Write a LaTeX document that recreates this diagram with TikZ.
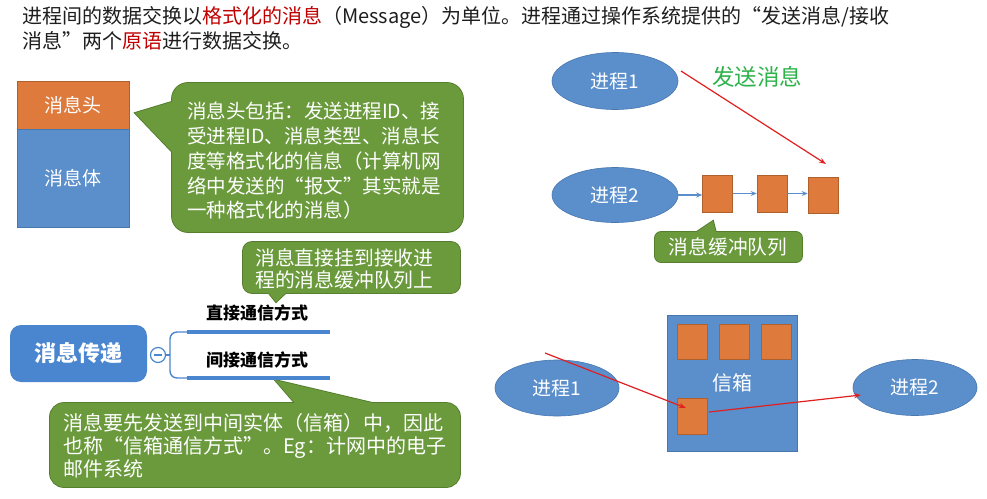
\documentclass[tikz,border=0pt]{standalone}
\usepackage{fontspec}
\setmainfont{Noto Sans CJK SC}
\usetikzlibrary{shapes.geometric,arrows.meta}
\definecolor{gFill}{HTML}{6A9A3C}
\definecolor{gEdge}{HTML}{547D2D}
\definecolor{pBlue}{HTML}{5B8FCC}
\definecolor{pBlueEdge}{HTML}{4877AE}
\definecolor{pOrange}{HTML}{DF7A3D}
\definecolor{pOrangeEdge}{HTML}{B0602C}
\definecolor{mBlue}{HTML}{4A86CF}
\definecolor{txtRed}{HTML}{C00000}
\definecolor{sendGreen}{HTML}{2DB34A}
\definecolor{arrRed}{HTML}{E21F1F}
\definecolor{txtDark}{HTML}{1E1E1E}
\newcommand\mycallout[6]{%
  \draw[draw=gEdge,line width=1.8pt,rounded corners=#1] #2 rectangle #3;
  \draw[draw=gEdge,line width=1.8pt,line join=miter] #4 -- #5 -- #6 -- cycle;
  \fill[gFill,rounded corners=#1] #2 rectangle #3;
  \fill[gFill] #4 -- #5 -- #6 -- cycle;}
\begin{document}
\begin{tikzpicture}[x=1pt,y=-1pt,
  toptext/.style={anchor=base west,inner sep=0,text=txtDark,font=\fontsize{20}{25}\selectfont},
  ctext/.style={inner sep=0,align=left,text=white,font=\fontsize{19.5}{24.7}\selectfont},
  proc/.style={ellipse,fill=pBlue,draw=pBlueEdge,line width=0.6pt,inner sep=0,minimum width=126,minimum height=57,text=white,font=\fontsize{19}{22}\selectfont},
  msgsq/.style={rectangle,fill=pOrange,draw=pOrangeEdge,line width=0.6pt,inner sep=0,minimum width=30,minimum height=36},
  redarr/.style={draw=arrRed,line width=1.2pt,-{Stealth[length=7pt,width=5pt]}},
  bluearr/.style={draw=pBlue,line width=1.2pt,-{Stealth[length=6pt,width=5pt]}},
  mmlabel/.style={inner sep=0,text=black,font=\fontsize{17}{20}\selectfont\bfseries}]
\useasboundingbox (0,0) rectangle (987,498);
\fill[white] (0,0) rectangle (987,498);

% top text
\node[toptext] (t1) at (22,23) {进程间的数据交换以\textcolor{txtRed}{格式化的消息}（Message）为单位。进程通过操作系统提供的“发送消息/接收};
\node[toptext] (t2) at (22,48) {消息”两个\textcolor{txtRed}{原语}进行数据交换。};

% message structure
\node[rectangle,fill=pOrange,draw=pOrangeEdge,line width=0.5pt,minimum width=112,minimum height=48,inner sep=0,text=white,font=\fontsize{19}{22}\selectfont] (hd) at (73,105) {消息头};
\node[rectangle,fill=pBlue,draw=pBlueEdge,line width=0.5pt,minimum width=112,minimum height=98,inner sep=0,text=white,font=\fontsize{19}{22}\selectfont] (bd) at (73,178) {消息体};

% big callout
\mycallout{16}{(172,83)}{(463,232)}{(178,100)}{(135,113)}{(178,158)}
\node[ctext,anchor=west] (c1) at (187,161) {消息头包括：发送进程ID、接\\受进程ID、消息类型、消息长\\度等格式化的信息（计算机网\\络中发送的“报文”其实就是\\一种格式化的消息）};

% second callout
\mycallout{9}{(243,242)}{(460,293)}{(264,287)}{(276,302)}{(292,287)}
\node[ctext,anchor=west,font=\fontsize{19.8}{22.5}\selectfont] (c2) at (255,269) {消息直接挂到接收进\\程的消息缓冲队列上};

% bottom callout
\mycallout{14}{(50,403)}{(460,487)}{(300,409)}{(275,380)}{(398,409)}
\node[ctext,anchor=west,font=\fontsize{20}{23}\selectfont] (c3) at (63,446) {消息要先发送到中间实体（信箱）中，因此\\也称“信箱通信方式”。Eg：计网中的电子\\邮件系统};

% mind map
\node[rectangle,rounded corners=11,fill=mBlue,minimum width=137,minimum height=57,inner sep=0,text=white,font=\fontsize{22}{26}\selectfont\bfseries] (mm) at (78.5,353.5) {消息传递};
\node[circle,draw=mBlue,fill=white,line width=1.2pt,minimum size=15,inner sep=0] (col) at (158,355) {};
\draw[mBlue,line width=1.6pt] ([xshift=-4]col.center) -- ([xshift=4]col.center);
\coordinate (b1) at (187,332);
\coordinate (b2) at (187,378);
\coordinate (b1e) at (330,332);
\coordinate (b2e) at (330,378);
\draw[mBlue,line width=1.4pt] (col.east) -- (170,355);
\draw[mBlue,line width=1.4pt,rounded corners=7] (b1) -- (170,332) -- (170,378) -- (b2);
\draw[mBlue,line width=4pt] (b1) -- (b1e);
\draw[mBlue,line width=4pt] (b2) -- (b2e);
\node[mmlabel] (d1) at (257,313) {直接通信方式};
\node[mmlabel] (d2) at (257,360) {间接通信方式};

% direct communication
\node[proc] (p1) at (615,81) {进程1};
\node[proc,minimum height=55] (p2) at (615,195) {进程2};
\node[msgsq,minimum height=37] (q1) at (717.5,193.5) {};
\node[msgsq,minimum height=37] (q2) at (772,193.5) {};
\node[msgsq] (q3) at (823,195) {};
\node[inner sep=0,text=sendGreen,font=\fontsize{22.5}{25}\selectfont] (send) at (757,77) {发送消息};
\coordinate (s1) at (681,71);
\coordinate (e1) at (826,164);
\draw[redarr] (s1) -- (e1);
\draw[bluearr] (p2.east) -- (p2.east -| q1.west);
\draw[bluearr] (q1.east) -- (q2.west);
\draw[bluearr] (q2.east) -- (q2.east -| q3.west);
\mycallout{6}{(655,232)}{(802,262)}{(689,237)}{(713,221)}{(717,237)}
\node[ctext,font=\fontsize{19.7}{22}\selectfont] (qlab) at (728,247) {消息缓冲队列};

% indirect communication
\node[rectangle,fill=pBlue,draw=pBlueEdge,line width=0.6pt,minimum width=130,minimum height=136,inner sep=0,text=white,font=\fontsize{20}{22}\selectfont] (mb) at (732,383) {信箱};
\node[msgsq,minimum height=35] (m1) at (692,341.5) {};
\node[msgsq,minimum height=35] (m2) at (734,341.5) {};
\node[msgsq,minimum height=35] (m3) at (776,341.5) {};
\node[msgsq] (m4) at (692,416) {};
\node[proc,minimum width=124,minimum height=56] (p3) at (557,388) {进程1};
\node[proc,minimum width=124,minimum height=56] (p4) at (915,387.5) {进程2};
\coordinate (s2) at (545,353);
\coordinate (e2) at (686,408);
\coordinate (s3) at (709,412);
\coordinate (e3) at (861,395);
\draw[redarr] (s2) -- (e2);
\draw[redarr] (s3) -- (e3);
\end{tikzpicture}
\end{document}
